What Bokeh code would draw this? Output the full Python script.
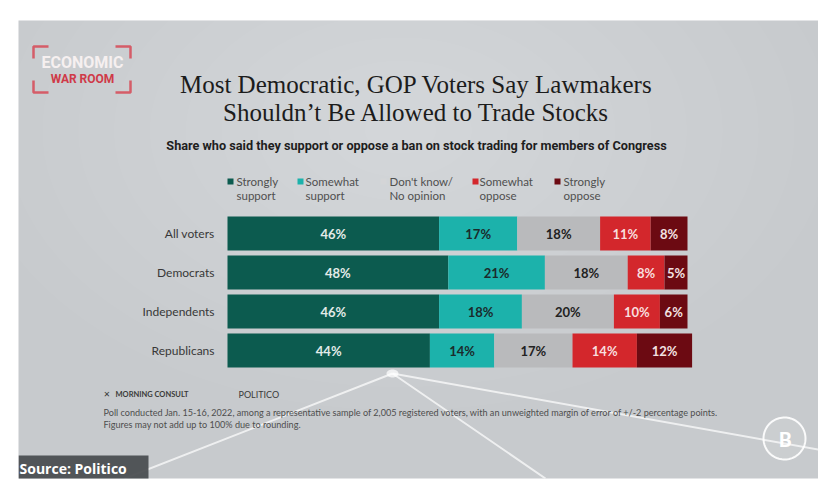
import numpy as np
from bokeh.plotting import figure
from bokeh.models import Range1d, ColumnDataSource, Label, BoxAnnotation, PolyAnnotation
from bokeh.core.properties import value
from bokeh.embed import file_html
from bokeh.resources import INLINE

# ---------------- data ----------------
categories = ["All voters", "Democrats", "Independents", "Republicans"]
strongly_support = [46, 48, 46, 44]
somewhat_support = [17, 21, 18, 14]
no_opinion = [18, 18, 20, 17]
somewhat_oppose = [11, 8, 10, 14]
strongly_oppose = [8, 5, 6, 12]
series_names = ["Strongly support", "Somewhat support", "Don't know/ No opinion",
                "Somewhat oppose", "Strongly oppose"]
legend_line1 = ["Strongly", "Somewhat", "Don't know/", "Somewhat", "Strongly"]
legend_line2 = ["support", "support", "No opinion", "oppose", "oppose"]
colors = ["#0c5b4f", "#1cb2ab", "#b9babc", "#d3272c", "#6c0a12"]
label_colors = ["#e3ebe9", "#1b2b2b", "#222222", "#f8dede", "#f3e2e2"]

title_lines = ["Most Democratic, GOP Voters Say Lawmakers",
               "Shouldn\u2019t Be Allowed to Trade Stocks"]
subtitle = "Share who said they support or oppose a ban on stock trading for members of Congress"
note_lines = ["Poll conducted Jan. 15-16, 2022, among a representative sample of 2,005 registered voters, "
              "with an unweighted margin of error of +/-2 percentage points.",
              "Figures may not add up to 100% due to rounding."]

# ---------------- layout ----------------
W, H = 818, 483
L, T, B = 18, 20, 5
FW, FH = W - L, H - T - B
PX = 4.6          # pixels per percentage point
ROW = 39          # pixels per row
x0 = -(227 - L) / PX
t0 = -(233 - T) / ROW

p = figure(width=W, height=H, output_backend="svg", toolbar_location=None,
           x_range=Range1d(x0, x0 + FW / PX), y_range=Range1d(t0 + FH / ROW, t0),
           x_axis_location=None, y_axis_location=None,
           min_border_left=L, min_border_right=0, min_border_top=T, min_border_bottom=B)
p.grid.visible = False
p.outline_line_color = None
p.background_fill_color = "#c7cacd"
p.border_fill_color = "white"


def sx(px):
    return px - L


def sy(py):
    return H - B - py


def lab(text, px, py, size, color, font="Lato", style="normal", align="left", **kw):
    p.add_layout(Label(x=sx(px), y=sy(py), x_units="screen", y_units="screen", text=text,
                       text_font=font, text_font_size=f"{size}px", text_font_style=style,
                       text_color=color, text_align=align, text_baseline="middle", **kw))


def poly(pts, color, width, alpha=1.0, fill=None, fill_alpha=0.0, level="annotation"):
    xs = [sx(a) for a, _ in pts]
    ys = [sy(b) for _, b in pts]
    p.add_layout(PolyAnnotation(xs=xs, ys=ys, xs_units="screen", ys_units="screen",
                                line_color=color, line_width=width, line_alpha=alpha,
                                fill_color=fill, fill_alpha=fill_alpha, level=level))


# soft background lighting (under the bars)
th = np.linspace(0, 2 * np.pi, 90)
for k in range(12):
    f = 1 - k / 12
    poly(list(zip(400 + 430 * f * np.cos(th), 130 + 280 * f * np.sin(th))),
         None, 0, 0, "white", 0.028, level="underlay")

# light rays
for end in [(124, 478), (545, 478), (818, 449)]:
    poly([(392, 373), end, (392, 373)], "white", 2, 0.7, level="underlay")
poly(list(zip(392 + 6 * np.cos(th), 373 + 4 * np.sin(th))), None, 0, 0, "white", 0.7,
     level="underlay")

# ---------------- bars ----------------
keys = ["s1", "s2", "s3", "s4", "s5"]
vals = [strongly_support, somewhat_support, no_opinion, somewhat_oppose, strongly_oppose]
ys = list(range(len(categories)))
data = dict(y=ys, cat=categories)
for k, v in zip(keys, vals):
    data[k] = v
source = ColumnDataSource(data)
p.hbar_stack(keys, y="y", height=0.87, color=colors, line_color=None, source=source)

arr = np.array(vals, dtype=float)
lefts = np.vstack([np.zeros(arr.shape[1]), np.cumsum(arr, axis=0)[:-1]])
for i in range(len(vals)):
    p.text(x=list(lefts[i] + arr[i] / 2), y=ys, text=[f"{v}%" for v in vals[i]],
           text_align="center", text_baseline="middle", text_font=value("Lato"),
           text_font_style="bold", text_font_size="13px", text_color=label_colors[i])

p.text(x=[0] * len(categories), y=ys, text=categories, x_offset=-13,
       text_align="right", text_baseline="middle", text_font=value("Lato"),
       text_font_size="12px", text_color="#383838")

# ---------------- titles ----------------
lab(title_lines[0], 416, 84, 25, "#1c1c1c", font="Liberation Serif", align="center")
lab(title_lines[1], 416, 112, 25, "#1c1c1c", font="Liberation Serif", align="center")
lab(subtitle, 416, 145, 12.7, "#1e1e1e", font="Roboto", style="bold", align="center")

# ---------------- legend ----------------
sq_x = [227, 297, 380, 472, 554]
tx_x = [236, 305, 389, 479, 563]
for i in range(len(series_names)):
    p.add_layout(BoxAnnotation(left=sx(sq_x[i]), right=sx(sq_x[i] + 6),
                               top=sy(178), bottom=sy(184),
                               left_units="screen", right_units="screen",
                               top_units="screen", bottom_units="screen",
                               fill_color=colors[i] if i != 2 else "#d4d5d7",
                               fill_alpha=1, line_color=None))
    lab(legend_line1[i], tx_x[i], 181, 11.5, "#4f4f4f")
    lab(legend_line2[i], tx_x[i], 195, 11.5, "#4f4f4f")

# ---------------- footer ----------------
lab("\u2715", 103, 394, 8, "#3a3a3a", font="DejaVu Sans", style="bold")
lab("MORNING CONSULT", 115, 394, 7.5, "#3a3a3a", style="bold")
lab("POLITICO", 238, 394, 9, "#3a3a3a")
lab(note_lines[0], 103, 412, 9.1, "#4e4e4e")
lab(note_lines[1], 103, 424, 9.1, "#4e4e4e")

# source tag
p.add_layout(BoxAnnotation(left=sx(18), right=sx(148), top=sy(455), bottom=sy(481),
                           left_units="screen", right_units="screen",
                           top_units="screen", bottom_units="screen",
                           fill_color="#4b4e51", fill_alpha=0.95, line_color=None))
lab("Source: Politico", 19, 468, 14, "white", font="Open Sans", style="bold")

# top-left logo
red = "#d6505c"
for pts in [[(33, 58), (33, 46), (48, 46)], [(115, 46), (130, 46), (130, 58)],
            [(33, 80), (33, 92), (48, 92)], [(115, 92), (130, 92), (130, 80)]]:
    poly(pts + pts[-2::-1], red, 2.5, 0.9)
lab("ECONOMIC", 82, 62, 16, "#f6f0f0", font="Roboto", style="bold", align="center")
lab("WAR ROOM", 82, 78, 12, "#cf3a48", font="Roboto", style="bold", align="center")

# bottom-right logo
poly(list(zip(784 + 21 * np.cos(th), 438 + 21 * np.sin(th))), "white", 2, 0.9, "white", 0.08)
lab("B", 785, 439, 20, "white", font="Roboto", style="bold", align="center")

open("out.html", "w").write(file_html(p, INLINE))
